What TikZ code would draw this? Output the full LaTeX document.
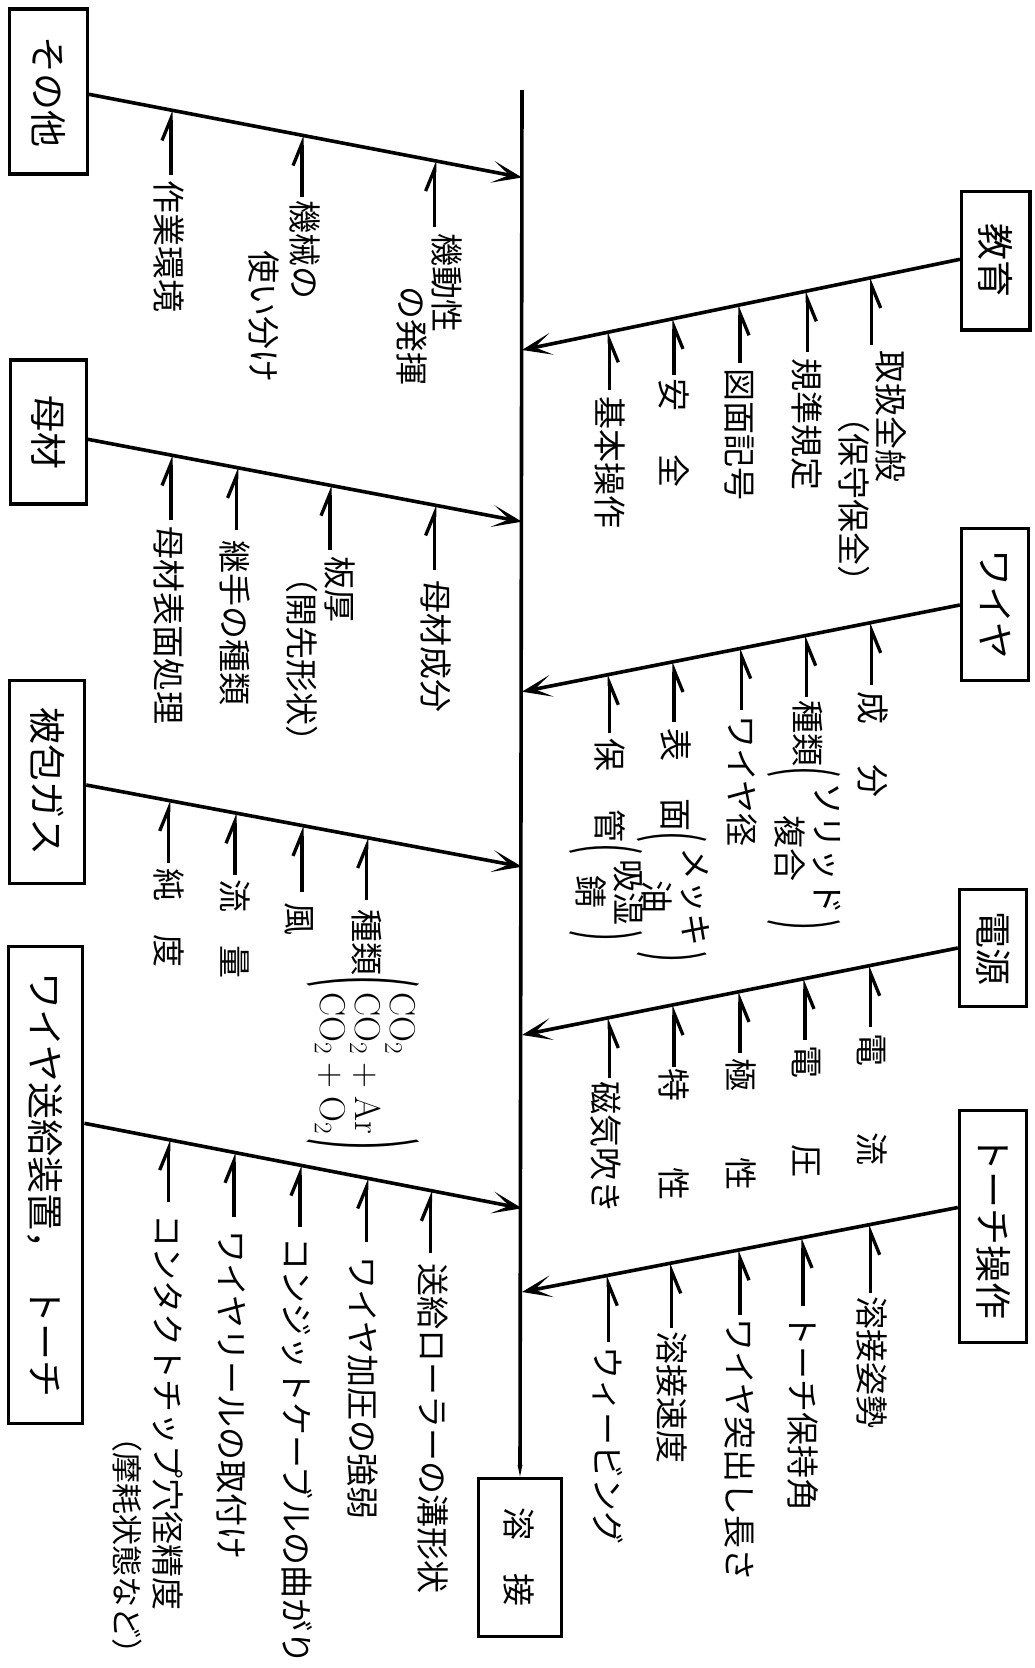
\RequirePackage{fix-cm}
\documentclass[tikz,border=0pt]{standalone}
\usepackage{fontspec}
\newfontfamily\jp{Noto Sans CJK JP}
\usetikzlibrary{arrows.meta,calc}
\newcommand\parL[1]{\vcenter{\hbox{\scalebox{1}[#1]{(}}}}
\newcommand\parR[1]{\vcenter{\hbox{\scalebox{1}[#1]{)}}}}
\begin{document}
\begin{tikzpicture}[x=1pt,y=-1pt,
  lab/.style={rotate=-90, anchor=west, inner sep=0pt, outer sep=0pt, font=\jp\fontsize{33}{36}\selectfont, text height=29pt, text depth=4pt},
  cbox/.style={draw, line width=3.4pt, rotate=-90, inner sep=0pt, font=\jp\fontsize{37}{40}\selectfont, text height=32.5pt, text depth=4.5pt},
  bone/.style={line width=3.6pt, -{Stealth[length=30pt,width=22pt,inset=17pt]}},
  spine/.style={line width=3.6pt, -{Stealth[length=46pt,width=19pt,inset=30pt]}},
  subL/.style={line width=3.3pt, -{Straight Barb[harpoon,length=22pt,width=18pt]}},
  subR/.style={line width=3.3pt, -{Straight Barb[harpoon,swap,length=22pt,width=18pt]}}]
\useasboundingbox (0,0) rectangle (1035,1668);

% ---------- boxes ----------
\node[cbox, minimum width=165pt, minimum height=78pt] (b1) at (48.2,91.5) {その他};
\node[cbox, minimum width=144pt, minimum height=76pt] (b2) at (48.2,432) {母材};
\node[cbox, minimum width=203pt, minimum height=75pt] (b3) at (47,781.7) {被包ガス};
\node[cbox, minimum width=477pt, minimum height=74pt] (b4) at (45.7,1185) {ワイヤ送給装置，\hspace{0.5em}トーチ};
\node[cbox, minimum width=138.5pt, minimum height=68.5pt] (b5) at (995.9,260.9) {教育};
\node[cbox, minimum width=152pt, minimum height=67pt] (b6) at (995,604.2) {ワイヤ};
\node[cbox, minimum width=117pt, minimum height=67pt] (b7) at (993,948) {電源};
\node[cbox, minimum width=232pt, minimum height=67pt] (b8) at (993,1226.5) {トーチ操作};
\node[cbox, minimum width=158pt, minimum height=83.5pt, font=\jp\fontsize{33}{36}\selectfont] (weld) at (520,1557.3) {溶　接};

% ---------- spine ----------
\coordinate (top) at (522,90);
\draw[spine] (top) -- (weld.west);

\coordinate (s1) at (522,177.5);
\coordinate (s2) at (522,521.7);
\coordinate (s3) at (522,866.7);
\coordinate (s4) at (522,1208.3);
\coordinate (s5) at (522,350);
\coordinate (s6) at (522,691.7);
\coordinate (s7) at (522,1035);
\coordinate (s8) at (522,1292);

\coordinate (c1) at (b1.north |- 0,94.3);
\coordinate (c2) at (b2.north |- 0,439.3);
\coordinate (c3) at (b3.north |- 0,785);
\coordinate (c4) at (b4.north |- 0,1123.3);
\coordinate (c5) at (b5.south |- 0,259.3);
\coordinate (c6) at (b6.south |- 0,605);
\coordinate (c7) at (b7.south |- 0,948);
\coordinate (c8) at (b8.south |- 0,1207.5);

\foreach \i in {1,...,8} {\draw[bone] (c\i) -- (s\i);}

% ---------- sub arrows ----------
\foreach \n/\x/\yb/\yt in {11/171/175/110.1, 12/302/196.7/135.2, 13/434.6/226.7/160.7,
  21/171/520/455.1, 22/236.6/530/467.5, 23/330/550/485.3, 24/434.6/570/505.1,
  31/168.7/863.3/800.5, 32/235/875/812.9, 33/302/891.7/825.5, 34/366.7/900/837.6,
  41/168.7/1201.7/1139.7, 42/234/1216.7/1152.4, 43/300/1226.7/1165.2, 44/366.7/1241.7/1178.1, 45/430.4/1253.3/1190.5}
  {\coordinate (q\n) at (\x,\yb); \coordinate (p\n) at (\x,\yt); \draw[subL] (q\n) -- (p\n);}
\foreach \n/\x/\yb/\yt in {51/871.7/345/277.6, 52/807.3/351.7/290.9, 53/740/363.3/304.9, 54/674/375/318.5, 55/609.3/390/331.9,
  61/871.7/685/622.5, 62/806.7/696.7/635.3, 63/741.7/710/648.2, 64/674/721.7/661.6, 65/609.3/733.3/674.4,
  71/870.7/1026.7/965.4, 72/805/1040/978.5, 73/740/1053/991.5, 74/674/1066.7/1004.7, 75/609.3/1078.3/1017.6,
  81/870.7/1293/1224.4, 82/803/1305.8/1237.5, 83/740/1315/1249.8, 84/671.7/1327.7/1263.0, 85/608.3/1342.3/1275.3}
  {\coordinate (q\n) at (\x,\yb); \coordinate (p\n) at (\x,\yt); \draw[subR] (q\n) -- (p\n);}

% ---------- labels: その他 ----------
\node[lab] (t11) at (169,180) {作業環境};
\node[lab] (t12a) at (305,200) {機械の};
\node[lab] (t12b) at (264,250) {使い分け};
\node[lab] (t13a) at (447,233) {機動性};
\node[lab] (t13b) at (411.5,286.7) {の発揮};
% 母材
\node[lab] (t21) at (169,526.7) {母材表面処理};
\node[lab] (t22) at (234.5,540) {継手の種類};
\node[lab] (t23a) at (340,556.7) {板厚};
\node[lab] (t23b) at (302,560) {（開先形状）};
\node[lab] (t24) at (435.6,580) {母材成分};
% 被包ガス
\node[lab] (t31) at (168.7,868) {純　度};
\node[lab] (t32) at (235,879) {流　量};
\node[lab] (t33) at (300,902) {風};
\node[lab] (t34) at (366.7,909) {種類{\fontsize{36}{33}\selectfont$\parL{3.1}\begin{array}{@{\hspace{5pt}}l@{\hspace{4pt}}}\mathrm{CO_2}\\ \mathrm{CO_2+Ar}\\ \mathrm{CO_2+O_2}\end{array}\parR{3.1}$}};
% ワイヤ送給装置, トーチ
\node[lab] (t41) at (168,1214) {コンタクトチップ穴径精度};
\node[lab, font=\jp\fontsize{31}{34}\selectfont] (t41b) at (128,1421) {（摩耗状態など）};
\node[lab] (t42) at (232,1230) {ワイヤリールの取付け};
\node[lab] (t43) at (297,1237) {コンジットケーブルの曲がり};
\node[lab] (t44) at (363,1256) {ワイヤ加圧の強弱};
\node[lab] (t45) at (433,1263) {送給ローラーの溝形状};
% 教育
\node[lab] (t51a) at (890.8,350) {取扱全般};
\node[lab] (t51b) at (854,400) {（保守保全）};
\node[lab] (t52) at (806.7,358) {規準規定};
\node[lab] (t53) at (740,368) {図面記号};
\node[lab] (t54) at (674,378) {安\hspace{44pt}全};
\node[lab] (t55) at (610,396) {基本操作};
% ワイヤ
\node[lab] (t61) at (873,691) {成\hspace{40pt}分};
\node[lab] (t62) at (808,700) {種類$\parL{2.2}\begin{tabular}{@{\hspace{5pt}}c@{\hspace{5pt}}}ソリッド\\複合\end{tabular}\parR{2.2}$};
\node[lab] (t63) at (742,715) {ワイヤ径};
\node[lab] (t64) at (676,728) {表\hspace{37pt}面$\parL{2.1}\begin{tabular}{@{\hspace{5pt}}c@{\hspace{5pt}}}メッキ\\油\end{tabular}\parR{2.1}$};
\node[lab] (t65) at (610,738) {保\hspace{39pt}管$\parL{2.2}\begin{tabular}{@{\hspace{5pt}}c@{\hspace{5pt}}}吸湿\\錆\end{tabular}\parR{2.2}$};
% 電源
\node[lab] (t71) at (872,1033) {電　　流};
\node[lab] (t72) at (807,1045) {電　　圧};
\node[lab] (t73) at (741,1058) {極　　性};
\node[lab] (t74) at (673.5,1068) {特　　性};
\node[lab] (t75) at (606,1081) {磁気吹き};
% トーチ操作
\node[lab] (t81) at (872,1296) {溶接姿勢};
\node[lab] (t82) at (803,1313) {トーチ保持角};
\node[lab] (t83) at (740,1318) {ワイヤ突出し長さ};
\node[lab] (t84) at (671.7,1331) {溶接速度};
\node[lab] (t85) at (608.3,1346) {ウィービング};
\end{tikzpicture}
\end{document}
